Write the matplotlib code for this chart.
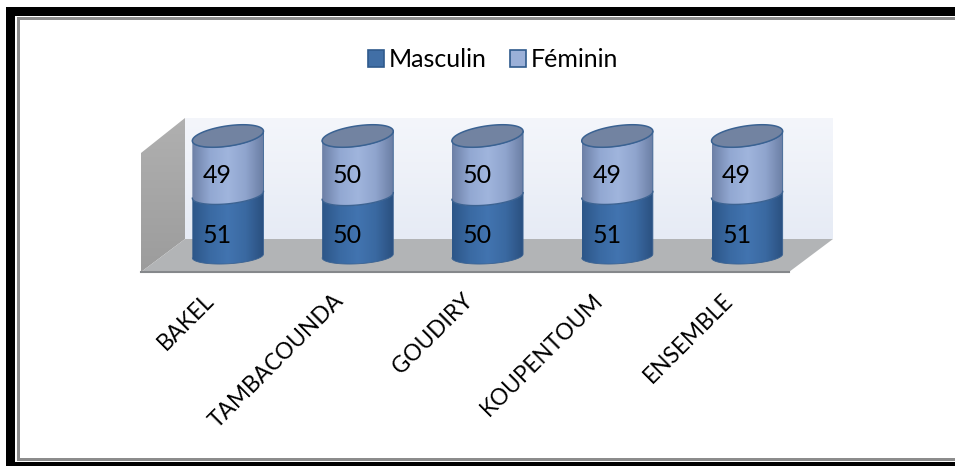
import numpy as np
import matplotlib
matplotlib.use("Agg")
import matplotlib.pyplot as plt
from matplotlib.patches import Polygon, Rectangle, PathPatch, Patch
from matplotlib.path import Path
from matplotlib.colors import LinearSegmentedColormap
from matplotlib.transforms import ScaledTranslation

categories = ["BAKEL", "TAMBACOUNDA", "GOUDIRY", "KOUPENTOUM", "ENSEMBLE"]
masculin = [51, 50, 50, 51, 51]
feminin = [49, 50, 50, 49, 49]

W, H = 955, 466
plt.rcParams["font.family"] = ["Lato", "DejaVu Sans"]

fig = plt.figure(figsize=(W / 100, H / 100), dpi=100)

# background layer in pixels, for the frame and the 3d walls
bg = fig.add_axes([0, 0, 1, 1])
bg.set_xlim(0, W)
bg.set_ylim(H, 0)
bg.axis("off")

bg.add_patch(Rectangle((6, 7), W - 6, 9, color="black", lw=0))
bg.add_patch(Rectangle((6, 7), 9, H - 7, color="black", lw=0))
bg.add_patch(Rectangle((6, 462), W - 6, 4, color="black", lw=0))
for r in [(17, 17, W - 17, 3), (17, 17, 3, 444), (17, 458, W - 17, 3)]:
    bg.add_patch(Rectangle(r[:2], r[2], r[3], color="#8c8c8c", lw=0))


def shade(ax, patch, colors, extent, vertical=False):
    cmap = LinearSegmentedColormap.from_list("c", colors)
    g = np.linspace(0, 1, 128)
    g = g.reshape(-1, 1) if vertical else g.reshape(1, -1)
    ax.add_patch(patch)
    im = ax.imshow(g, cmap=cmap, extent=extent, aspect="auto", zorder=patch.get_zorder())
    im.set_clip_path(patch)


wall = Polygon([(185, 118), (833, 118), (833, 239), (185, 239)], fc="none", ec="none")
shade(bg, wall, ["#f4f6fb", "#e6ebf5"], (185, 833, 239, 118), vertical=True)
side = Polygon([(141, 153), (185, 118), (185, 239), (141, 272)], fc="none", ec="none")
shade(bg, side, ["#b0b0b0", "#9c9c9c"], (141, 185, 272, 118), vertical=True)
bg.add_patch(Polygon([(141, 272), (789, 272), (833, 239), (185, 239)], fc="#b2b4b6", ec="none"))
bg.plot([141, 789], [272, 272], color="#85888b", lw=1.5)
bg.set_xlim(0, W)
bg.set_ylim(H, 0)

# chart layer, x in categories and y in percent, with room for the ellipses
x0, x1 = 228 - 65, 747 + 65
y_zero, y_full = 256, 136
pct = (y_zero - y_full) / 100
ymin, ymax = -20, 120
ax = fig.add_axes([x0 / W, 1 - (y_zero - ymin * pct) / H, (x1 - x0) / W, (ymax - ymin) * pct / H])
ax.patch.set_alpha(0)
for s in ax.spines.values():
    s.set_visible(False)

a = 0.274  # half width, in categories

t_low = np.linspace(np.pi, 2 * np.pi, 60)
t_all = np.linspace(0, 2 * np.pi, 120)


def ring(cx, v, t):
    # ellipse opens up and tilts more with height
    b = 6.5 + 2.0 * v / 100
    tilt = 1.6 + 2.4 * v / 100
    return cx + a * np.cos(t), v + b * np.sin(t) + tilt * np.cos(t)


def body(cx, v0, v1):
    xa, ya = ring(cx, v0, t_low)
    xb, yb = ring(cx, v1, t_low[::-1])
    return np.r_[xa, xb], np.r_[ya, yb]


dark_cols = ["#2d5688", "#3a6aa3", "#4274b0", "#3a69a1", "#2a4f7f"]
light_cols = ["#6d80a6", "#92a8d2", "#a0b5dd", "#8fa4cd", "#6a7da3"]
edge = "#3a6292"

for i in range(len(categories)):
    m = masculin[i]
    top = m + feminin[i]
    for v0, v1, cols in [(0, m, dark_cols), (m, top, light_cols)]:
        xs, ys = body(i, v0, v1)
        p = PathPatch(Path(np.c_[xs, ys]), fc="none", ec="none", zorder=3)
        shade(ax, p, cols, (i - a, i + a, ymin, ymax))
    xs, ys = body(i, 0, top)
    ax.plot(xs, ys, color=edge, lw=0.6, zorder=4)
    xs, ys = ring(i, m, t_low)
    ax.plot(xs, ys, color="#3c6392", lw=1.0, zorder=4)
    xs, ys = ring(i, top, t_all)
    ax.fill(xs, ys, fc="#7283a1", ec=edge, lw=1.1, zorder=5)
    for v, c in [(m / 2, m), (m + feminin[i] / 2, feminin[i])]:
        ax.annotate(str(c), (i, v), xytext=(-7.5, -7), textcoords="offset points",
                    ha="center", va="center", fontsize=18, color="black", zorder=6)

ax.set_xlim(-0.5, 4.5)
ax.set_ylim(ymin, ymax)
ax.set_yticks([])
ax.set_xticks(range(len(categories)))
ax.set_xticklabels(categories, rotation=45, ha="right", rotation_mode="anchor", fontsize=16.3)
ax.tick_params(axis="x", length=0, pad=7)
shift = ScaledTranslation(-18 / 72, 0, fig.dpi_scale_trans)
for lab in ax.get_xticklabels():
    lab.set_transform(lab.get_transform() + shift)

handles = [Patch(fc="#416fa6", ec="#2f5a8c", lw=1.2, label="Masculin"),
           Patch(fc="#9bb0d8", ec="#2f5a8c", lw=1.2, label="Féminin")]
fig.legend(handles=handles, loc="center", bbox_to_anchor=(493 / W, 1 - 60 / H), ncol=2,
           frameon=False, fontsize=18, handlelength=0.65, handleheight=0.65,
           handletextpad=0.2, columnspacing=0.9)

fig.savefig("out.png", dpi=100)
